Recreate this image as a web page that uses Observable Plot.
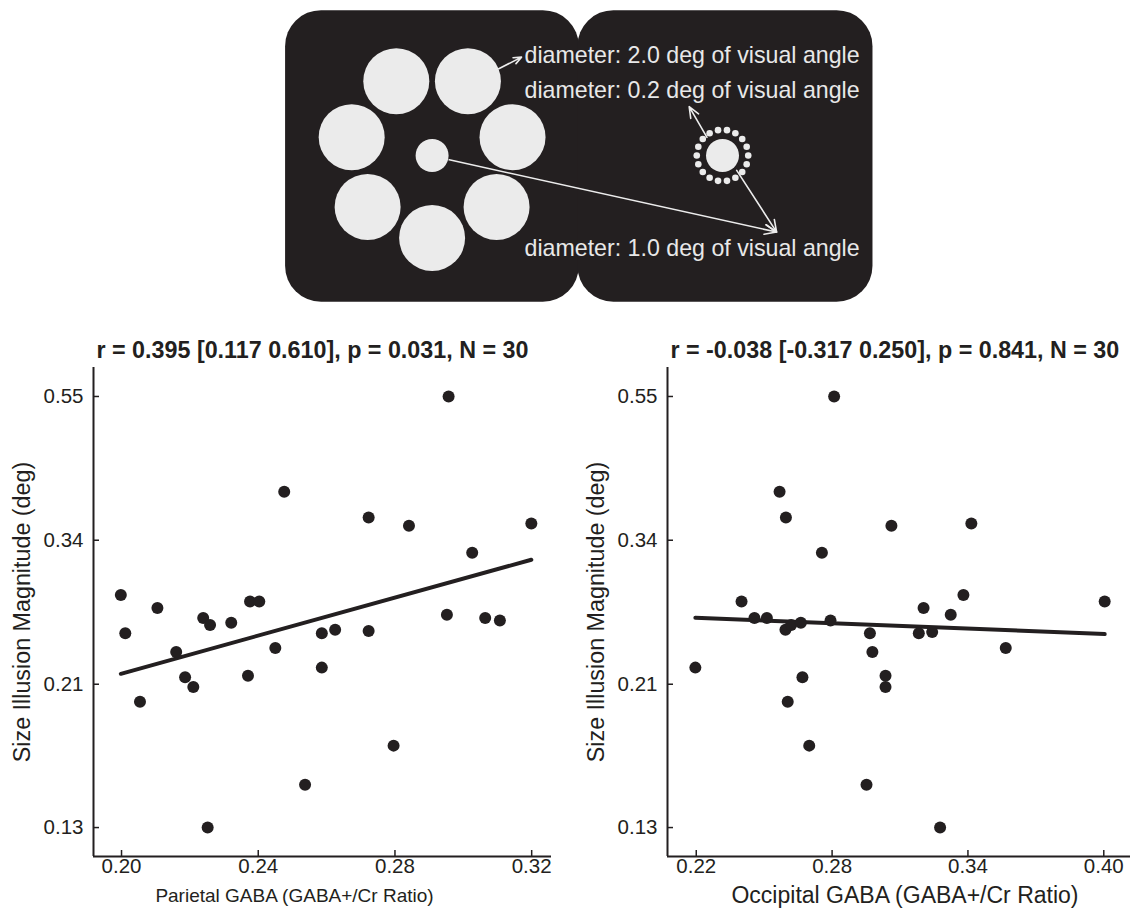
<!DOCTYPE html>
<html>
<head>
<meta charset="utf-8">
<script src="https://cdn.jsdelivr.net/npm/d3@7"></script>
<script src="https://cdn.jsdelivr.net/npm/@observablehq/plot@0.6"></script>
<style>
  body { margin: 0; background: #fff; }
  #wrap { width: 1131px; height: 913px; overflow: hidden; }
  .row { display: flex; }
  svg { display: block; }
</style>
</head>
<body>
<div id="wrap">
  <div id="diagram"></div>
  <div class="row"><div id="left"></div><div id="right"></div></div>
</div>
<script>
// ---------- chart data ----------
const parietalGaba = [0.2957,0.2476,0.2723,0.2841,0.3199,0.3026,0.1998,0.2011,0.2105,0.2054,0.2160,0.2186,0.2210,0.2239,0.2259,0.2252,0.2321,0.2376,0.2403,0.2370,0.2450,0.2537,0.2586,0.2586,0.2625,0.2723,0.2796,0.2952,0.3064,0.3107];
const parietalIllusion = [0.55,0.400,0.367,0.357,0.3595,0.326,0.283,0.249,0.271,0.198,0.234,0.215,0.208,0.262,0.256,0.13,0.258,0.277,0.277,0.216,0.237,0.150,0.249,0.222,0.252,0.251,0.171,0.265,0.262,0.260];
const occipitalGaba = [0.2809,0.2568,0.2596,0.3062,0.3415,0.2755,0.2400,0.2457,0.2512,0.2594,0.2619,0.2662,0.2793,0.2196,0.2669,0.2604,0.2699,0.2967,0.2978,0.3036,0.3036,0.2952,0.3183,0.3242,0.3204,0.3324,0.3380,0.3567,0.4004,0.3277];
const occipitalIllusion = [0.55,0.400,0.367,0.357,0.3595,0.326,0.277,0.262,0.262,0.252,0.256,0.258,0.260,0.222,0.215,0.198,0.171,0.249,0.234,0.216,0.208,0.150,0.249,0.250,0.271,0.265,0.283,0.237,0.277,0.13];

const yTicks = [0.13, 0.21, 0.34, 0.55];
const parietalTicks = [0.20, 0.24, 0.28, 0.32];
const occipitalTicks = [0.22, 0.28, 0.34, 0.40];

const leftTitle = "r = 0.395 [0.117 0.610], p = 0.031, N = 30";
const rightTitle = "r = -0.038 [-0.317 0.250], p = 0.841, N = 30";
const yLabel = "Size Illusion Magnitude (deg)";
const leftXLabel = "Parietal GABA (GABA+/Cr Ratio)";
const rightXLabel = "Occipital GABA (GABA+/Cr Ratio)";

// ---------- stimulus diagram (units: degrees of visual angle) ----------
const surroundX = [0, 1.954, 2.437, 1.085, -1.085, -2.437, -1.954];
const surroundY = [-2.5, -1.559, 0.556, 2.252, 2.252, 0.556, -1.559];
const surroundDiameter = 2.0;
const targetDiameter = 1.0;
const smallDiameter = 0.2;
const leftCenter = [0, 0];
const rightCenter = [8.8, 0];
const smallRingRadius = 0.78;
const smallRingAngles = [0,20,40,60,80,100,120,140,160,180,200,220,240,260,280,300,320,340];
const panelX1 = [-4.44, 4.42];
const panelX2 = [4.46, 13.36];
const panelY1 = [-4.45, -4.45];
const panelY2 = [4.39, 4.39];
const labelTexts = ["diameter: 2.0 deg of visual angle", "diameter: 0.2 deg of visual angle", "diameter: 1.0 deg of visual angle"];
const labelX = [2.8, 2.8, 2.8];
const labelY = [3.03, 1.97, -2.82];
const arrowX1 = [2.02, 8.33, 9.23, 0.52];
const arrowY1 = [2.63, 0.55, -0.45, -0.13];
const arrowX2 = [2.71, 7.79, 10.44, 10.44];
const arrowY2 = [2.98, 1.48, -2.32, -2.32];

const FONT = '"Liberation Sans", Arial, Helvetica, sans-serif';
const INK = "#231f20";

// ----- diagram -----
const pxPerDeg = 33;
const circles = [];
surroundX.forEach((x, i) => circles.push({x, y: surroundY[i], d: surroundDiameter}));
circles.push({x: leftCenter[0], y: leftCenter[1], d: targetDiameter});
circles.push({x: rightCenter[0], y: rightCenter[1], d: targetDiameter});
smallRingAngles.forEach(a => circles.push({
  x: rightCenter[0] + smallRingRadius * Math.cos(a * Math.PI / 180),
  y: rightCenter[1] + smallRingRadius * Math.sin(a * Math.PI / 180),
  d: smallDiameter
}));
const panels = panelX1.map((x1, i) => ({x1, x2: panelX2[i], y1: panelY1[i], y2: panelY2[i]}));
const labels = labelTexts.map((t, i) => ({t, x: labelX[i], y: labelY[i]}));
const arrows = arrowX1.map((x1, i) => ({x1, y1: arrowY1[i], x2: arrowX2[i], y2: arrowY2[i]}));

const dW = 1131, dH = 320, cx = 431.6, cy = 155;
const diagram = Plot.plot({
  width: dW, height: dH, margin: 0,
  x: {domain: [-cx / pxPerDeg, (dW - cx) / pxPerDeg], axis: null},
  y: {domain: [(cy - dH) / pxPerDeg, cy / pxPerDeg], axis: null},
  r: {type: "identity"},
  style: {fontFamily: FONT, background: "transparent"},
  marks: [
    Plot.rect(panels, {x1: "x1", x2: "x2", y1: "y1", y2: "y2", fill: INK, rx: 36}),
    Plot.dot(circles, {x: "x", y: "y", r: d => d.d * pxPerDeg / 2, fill: "#ebebeb"}),
    Plot.arrow(arrows, {x1: "x1", y1: "y1", x2: "x2", y2: "y2", stroke: "#ececec", strokeWidth: 1.6, headLength: 12, headAngle: 45}),
    Plot.text(labels, {x: "x", y: "y", text: "t", textAnchor: "start", fill: "#e8e8e8", fontSize: 23.2})
  ]
});
document.getElementById("diagram").appendChild(diagram);

// ----- scatter plots -----
function fitLog(xs, ys) {
  const n = xs.length;
  const ly = ys.map(Math.log);
  const mx = d3.mean(xs), my = d3.mean(ly);
  let sxy = 0, sxx = 0;
  for (let i = 0; i < n; i++) { sxy += (xs[i] - mx) * (ly[i] - my); sxx += (xs[i] - mx) ** 2; }
  const b = sxy / sxx, a = my - b * mx;
  const ext = d3.extent(xs);
  return ext.map(x => ({x, y: Math.exp(a + b * x)}));
}

function scatter({xs, ys, xTicks, xDomain, title, xLabel, marginLeft, marginRight, width, xLabelDx, titleSize, xLabelSize, yLabelDx}) {
  const pts = xs.map((x, i) => ({x, y: ys[i]}));
  const yDomain = [0.118, 0.606];
  return Plot.plot({
    width, height: 593, marginLeft, marginRight, marginTop: 47, marginBottom: 57,
    x: {domain: xDomain},
    y: {type: "log", domain: yDomain},
    style: {fontFamily: FONT, fontSize: "20.5px", color: INK, background: "transparent"},
    marks: [
      Plot.axisY({ticks: yTicks, tickFormat: ".2f", tickSize: -6, tickPadding: 16, strokeWidth: 1.5, label: null, fontSize: 20.5}),
      Plot.axisX({ticks: xTicks, tickFormat: ".2f", tickSize: -6, tickPadding: 8, strokeWidth: 1.5, label: null, fontSize: 20.5}),
      Plot.ruleX([xDomain[0]], {stroke: INK, strokeWidth: 2}),
      Plot.ruleY([yDomain[0]], {stroke: INK, strokeWidth: 2}),
      Plot.line(fitLog(xs, ys), {x: "x", y: "y", stroke: INK, strokeWidth: 4}),
      Plot.dot(pts, {x: "x", y: "y", r: 6, fill: INK}),
      Plot.text([title], {frameAnchor: "top-left", dx: 3, dy: -17, textAnchor: "start", lineAnchor: "middle", fontWeight: "bold", fontSize: titleSize, fill: INK}),
      Plot.text([yLabel], {frameAnchor: "left", dx: yLabelDx, rotate: -90, textAnchor: "middle", lineAnchor: "middle", fontSize: 23.3, fill: INK}),
      Plot.text([xLabel], {frameAnchor: "bottom", dx: xLabelDx, dy: 39, textAnchor: "middle", lineAnchor: "middle", fontSize: xLabelSize, fill: INK})
    ]
  });
}

document.getElementById("left").appendChild(scatter({
  xs: parietalGaba, ys: parietalIllusion, xTicks: parietalTicks,
  xDomain: [0.1918, 0.3258], title: leftTitle, xLabel: leftXLabel,
  marginLeft: 93, marginRight: 15, width: 566, xLabelDx: -28,
  titleSize: 23.3, xLabelSize: 19, yLabelDx: -71
}));
document.getElementById("right").appendChild(scatter({
  xs: occipitalGaba, ys: occipitalIllusion, xTicks: occipitalTicks,
  xDomain: [0.2073, 0.4118], title: rightTitle, xLabel: rightXLabel,
  marginLeft: 101, marginRight: 1, width: 565, xLabelDx: 6,
  titleSize: 23.3, xLabelSize: 23, yLabelDx: -71
}));
</script>
</body>
</html>
